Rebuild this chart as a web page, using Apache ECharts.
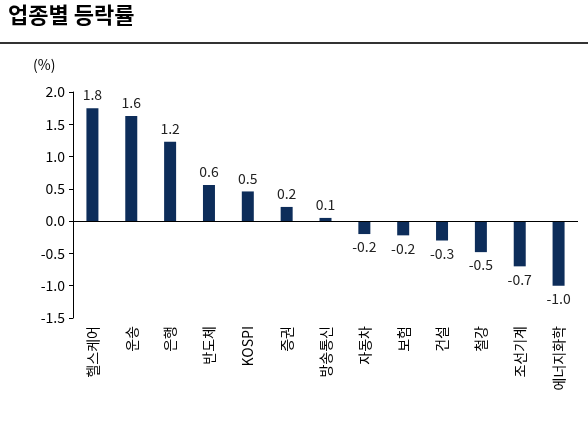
<!DOCTYPE html><html><head><meta charset="utf-8"><script src="https://cdn.jsdelivr.net/npm/echarts@6/dist/echarts.min.js"></script></head><body style="margin:0"><div id="c" style="width:588px;height:427px"></div><script>
const categories=['헬스케어','운송','은행','반도체','KOSPI','증권','방송통신','자동차','보험','건설','철강','조선기계','에너지화학'];
const values=[1.75,1.63,1.23,0.56,0.46,0.22,0.05,-0.2,-0.22,-0.3,-0.48,-0.7,-1.0];
const valueLabels=['1.8','1.6','1.2','0.6','0.5','0.2','0.1','-0.2','-0.2','-0.3','-0.5','-0.7','-1.0'];
const f='"Noto Sans CJK KR", sans-serif';
const ch=echarts.init(document.getElementById('c'));
ch.setOption({animation:false,
graphic:[{type:'text',left:8,top:4,style:{text:'업종별 등락률',font:'bold 22px '+f,fill:'#000'}},
{type:'rect',shape:{x:0,y:42,width:588,height:2},style:{fill:'#333'}},
{type:'text',left:33,top:58,style:{text:'(%)',font:'14px '+f,fill:'#000'}}],
grid:{left:73,right:10,top:92,bottom:109},
xAxis:{type:'category',data:categories,axisLine:{show:false},axisTick:{show:false},
axisLabel:{rotate:90,interval:0,fontSize:14,fontFamily:f,color:'#000',margin:8}},
yAxis:{type:'value',min:-1.5,max:2,interval:0.5,splitLine:{show:false},
axisLine:{show:true,lineStyle:{color:'#000'}},axisTick:{show:true,length:4,lineStyle:{color:'#000'}},
axisLabel:{fontSize:14,fontFamily:f,color:'#000',margin:8,formatter:v=>v.toFixed(1)}},
series:[{type:'bar',data:values.map(v=>({value:v,label:{position:v<0?'bottom':'top'}})),barWidth:12,
itemStyle:{color:'#0d2d5a'},
label:{show:true,fontSize:14,fontFamily:f,color:'#222',distance:6,formatter:p=>valueLabels[p.dataIndex]},
markLine:{silent:true,symbol:'none',label:{show:false},lineStyle:{color:'#000',type:'solid',width:1},data:[{yAxis:0}]}}]
});
</script></body></html>
